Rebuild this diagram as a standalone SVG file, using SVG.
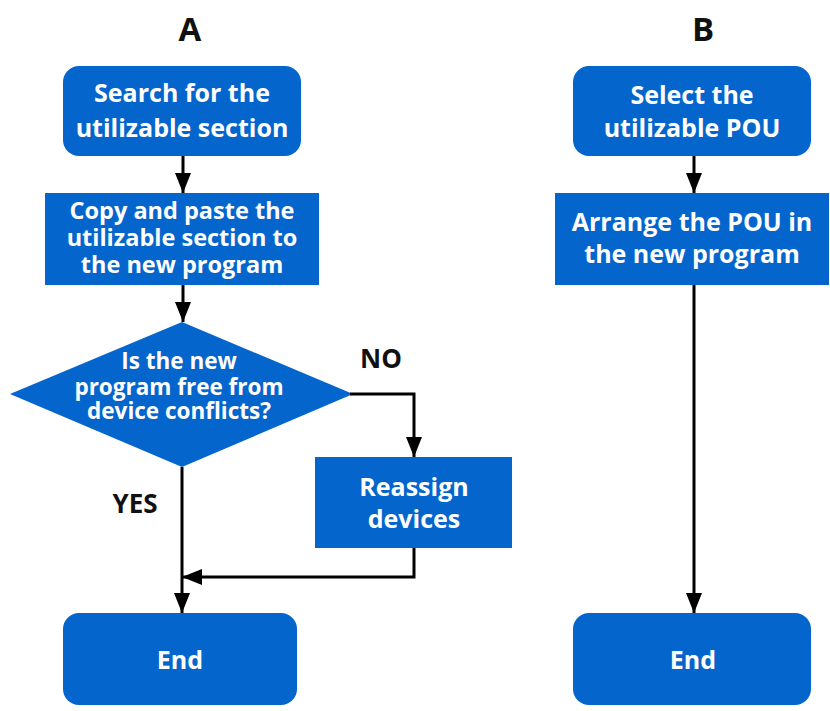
<svg xmlns="http://www.w3.org/2000/svg" width="830" height="711" viewBox="0 0 830 711">
<style>
.n{fill:#0466CC}
.t{fill:#fff;font-family:"Open Sans","Noto Sans",sans-serif;font-weight:bold;font-size:25px;text-anchor:middle}
.s{font-size:23.5px}
.d{font-size:22.5px}
.h{fill:#111;font-family:"Open Sans","Noto Sans",sans-serif;font-weight:bold;font-size:33px;text-anchor:middle}
.l{fill:#111;font-family:"Open Sans","Noto Sans",sans-serif;font-weight:bold;font-size:26px;text-anchor:middle}
.c{fill:none;stroke:#000;stroke-width:3}
</style>
<defs>
<marker id="ah" viewBox="0 0 20 16" refX="20" refY="8" markerWidth="20" markerHeight="16" markerUnits="userSpaceOnUse" orient="auto">
<path d="M0,0 L20,8 L0,16 Z" fill="#000"/>
</marker>
</defs>
<rect width="830" height="711" fill="#fff"/>
<text class="h" x="190" y="41">A</text>
<text class="h" x="703" y="41">B</text>
<g id="a1"><rect class="n" x="63" y="66" width="238" height="90" rx="16"/>
<text class="t" x="182" y="102">Search for the</text><text class="t" x="182" y="137">utilizable section</text></g>
<g id="a2"><rect class="n" x="45" y="193" width="274" height="92"/>
<text class="t s" x="182" y="219">Copy and paste the</text><text class="t s" x="182" y="246">utilizable section to</text><text class="t s" x="182" y="273">the new program</text></g>
<g id="a3"><polygon class="n" points="182,322 353,394 182,467 10,394"/>
<text class="t d" x="179" y="369">Is the new</text><text class="t d" x="179" y="395">program free from</text><text class="t d" x="179" y="419">device conflicts?</text></g>
<g id="a4"><rect class="n" x="315" y="457" width="197" height="91"/>
<text class="t" x="414" y="496">Reassign</text><text class="t" x="414" y="528">devices</text></g>
<g id="a5"><rect class="n" x="63" y="613" width="234" height="92" rx="16"/>
<text class="t" x="180" y="669">End</text></g>
<g id="b1"><rect class="n" x="573" y="66" width="238" height="90" rx="16"/>
<text class="t" x="692" y="104">Select the</text><text class="t" x="692" y="137">utilizable POU</text></g>
<g id="b2"><rect class="n" x="555" y="193" width="274" height="92"/>
<text class="t" x="692" y="231">Arrange the POU in</text><text class="t" x="692" y="263">the new program</text></g>
<g id="b3"><rect class="n" x="573" y="613" width="238" height="92" rx="16"/>
<text class="t" x="693" y="669">End</text></g>
<text class="l" x="381" y="368">NO</text>
<text class="l" x="135" y="513">YES</text>
<g id="connectors">
<path class="c" d="M183,156 V193" marker-end="url(#ah)"/>
<path class="c" d="M183,285 V322" marker-end="url(#ah)"/>
<path class="c" d="M350,394 H414 V457" marker-end="url(#ah)"/>
<path class="c" d="M182,467 V613" marker-end="url(#ah)"/>
<path class="c" d="M414,548 V577 H182" marker-end="url(#ah)"/>
<path class="c" d="M694,156 V193" marker-end="url(#ah)"/>
<path class="c" d="M694,285 V613" marker-end="url(#ah)"/>
</g>
</svg>
